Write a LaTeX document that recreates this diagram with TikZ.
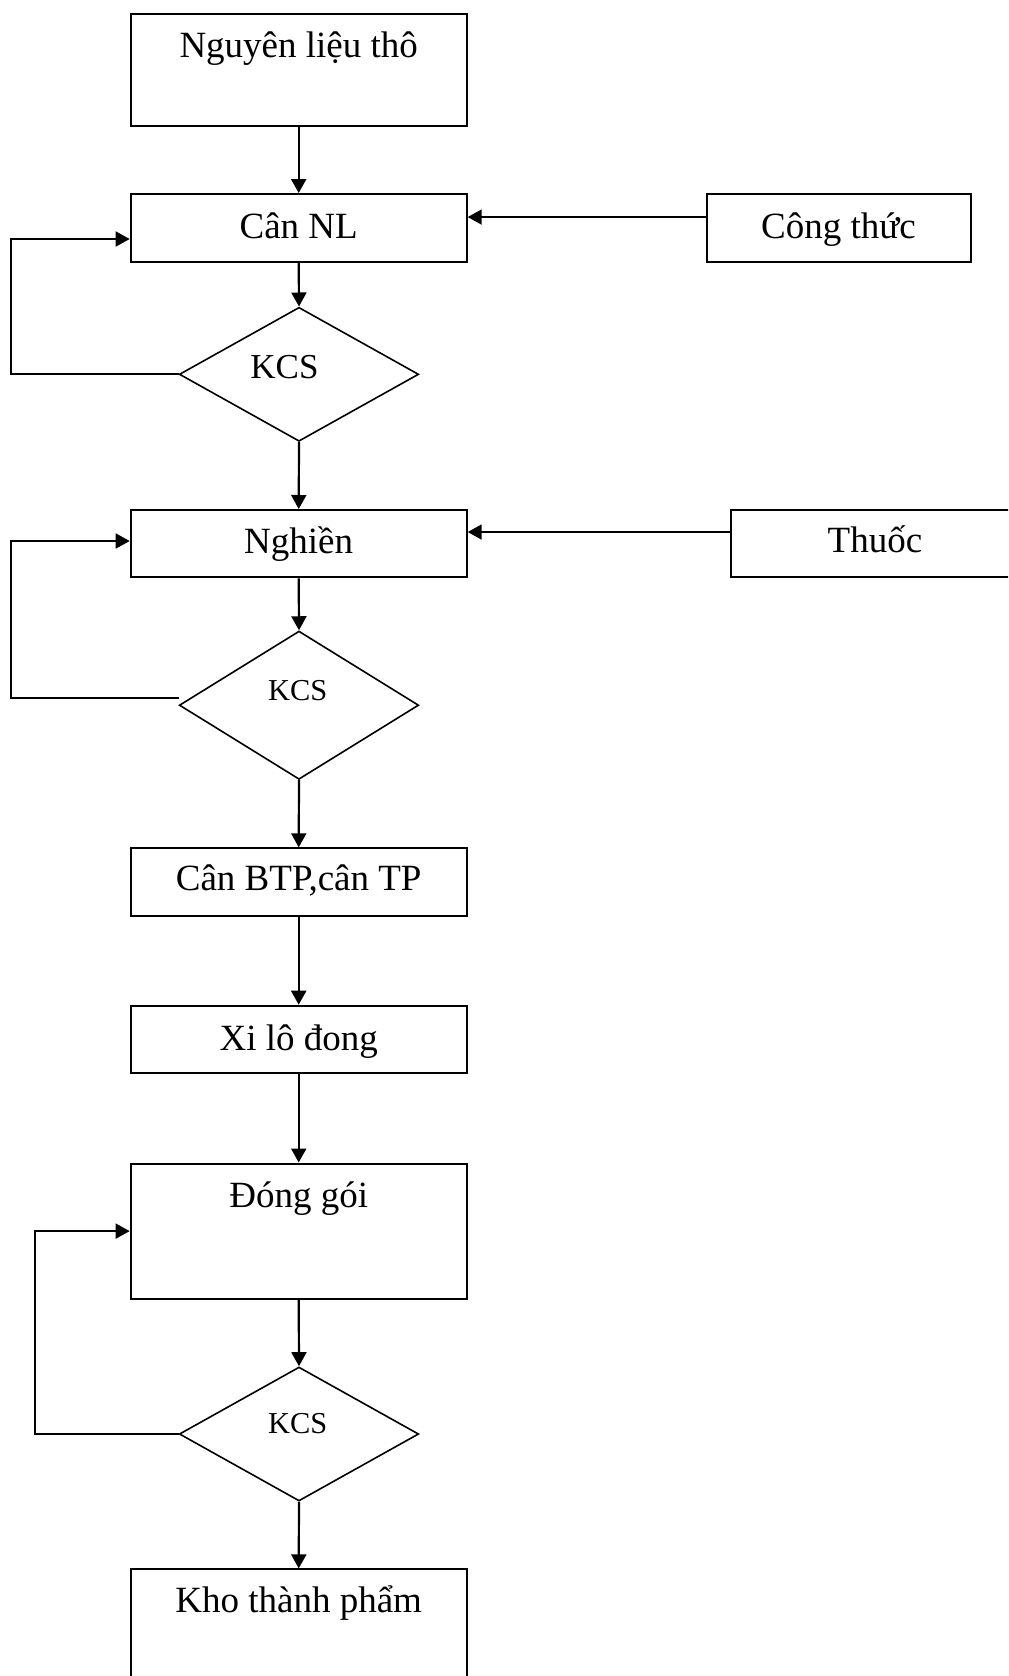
\documentclass[tikz,border=0pt]{standalone}
\usepackage{fontspec}
\setmainfont{Liberation Serif}
\usetikzlibrary{shapes.geometric,arrows.meta}
\begin{document}
\begin{tikzpicture}[x=0.5pt,y=-0.5pt,
  box/.style={draw,rectangle,inner sep=0pt,line width=1pt,minimum width=168pt},
  kcs/.style={draw,diamond,inner sep=0pt,line width=0.8pt,minimum width=119.7pt},
  lbl/.style={inner sep=0pt,anchor=base,font=\fontsize{18.5}{22}\selectfont},
  lblmid/.style={inner sep=0pt,anchor=base,font=\fontsize{17.5}{21}\selectfont},
  lblsmall/.style={inner sep=0pt,anchor=base,font=\fontsize{15.2}{18}\selectfont},
  flow/.style={line width=1.1pt,-{Triangle[length=7pt,width=7.5pt]}},
  side/.style={line width=0.9pt,-{Triangle[length=7pt,width=7.5pt]}},
]
\path[use as bounding box,clip] (0,0) rectangle (1008,1676);

% process boxes
\node[box,minimum height=56pt]    (nlt)     at (298.7,70)     {};
\node[box,minimum height=33.85pt] (cannl)   at (298.7,227.85) {};
\node[box,minimum width=132pt,minimum height=33.85pt] (ct) at (838.5,227.85) {};
\node[kcs,minimum height=67pt]    (d1)      at (299,374.3)    {};
\node[box,minimum height=33.65pt] (nghien)  at (298.7,543.65) {};
\node[box,minimum width=144pt,minimum height=33.65pt] (thuoc) at (875,543.65) {};
\node[kcs,minimum height=74.15pt] (d2)      at (299,705.2)    {};
\node[box,minimum height=33.7pt]  (canbtp)  at (298.7,882)    {};
\node[box,minimum height=33.8pt]  (xilo)    at (298.7,1039.5) {};
\node[box,minimum height=67.6pt]  (donggoi) at (298.7,1231.1) {};
\node[kcs,minimum height=67pt]    (d3)      at (299,1434)     {};
\node[box,minimum height=60pt]    (kho)     at (298.7,1629.4) {};

% labels
\node[lbl]      (tnlt)     at (298.7,57)     {Nguyên liệu thô};
\node[lbl]      (tcannl)   at (298.7,238.3)  {Cân NL};
\node[lbl]      (tct)      at (838.5,238.3)  {Công thức};
\node[lblmid]   (td1)      at (284.5,378.3)  {KCS};
\node[lbl]      (tnghien)  at (298.7,553.3)  {Nghiền};
\node[lbl]      (tthuoc)   at (875,552.5)    {Thuốc};
\node[lblsmall] (td2)      at (297.8,700.7)  {KCS};
\node[lbl]      (tcanbtp)  at (298.7,890)    {Cân BTP,cân TP};
\node[lbl]      (txilo)    at (298.7,1050)   {Xi lô đong};
\node[lbl]      (tdonggoi) at (298.7,1207.3) {Đóng gói};
\node[lblsmall] (td3)      at (297.8,1433.5) {KCS};
\node[lbl]      (tkho)     at (298.7,1612.4) {Kho thành phẩm};

% main flow
\draw[flow] (nlt.south)     -- (cannl.north);
\draw[flow] (cannl.south)   -- (d1.north);
\draw[flow] (d1.south)      -- (nghien.north);
\draw[flow] (nghien.south)  -- (d2.north);
\draw[flow] (d2.south)      -- (canbtp.north);
\draw[flow] (canbtp.south)  -- (xilo.north);
\draw[flow] (xilo.south)    -- (donggoi.north);
\draw[flow] (donggoi.south) -- (d3.north);
\draw[flow] (d3.south)      -- (kho.north);

% side inputs
\draw[side] ([yshift=5.4pt]ct.west)    -- ([yshift=5.4pt]cannl.east);
\draw[side] ([yshift=5.8pt]thuoc.west) -- ([yshift=5.8pt]nghien.east);

% quality-check return loops
\coordinate (fb1) at (10.7,239);
\draw[side] (d1.west) -| (fb1) -- (cannl.west |- fb1);
\coordinate (k2) at ([yshift=3.5pt]d2.west);
\coordinate (fb2) at (10.7,541);
\draw[side] (k2) -| (fb2) -- (nghien.west |- fb2);
\coordinate (fb3) at (35,1231.1);
\draw[side] (d3.west) -| (fb3) -- (donggoi.west);
\end{tikzpicture}
\end{document}
